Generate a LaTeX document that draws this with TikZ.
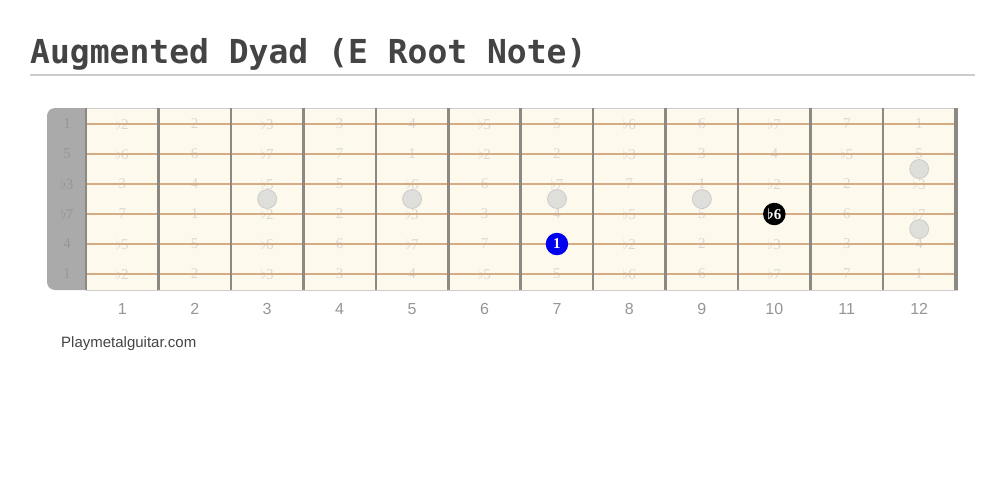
\documentclass[tikz,border=0pt]{standalone}
\usepackage{fontspec}
\setmainfont{Liberation Serif}
\newfontfamily\titlefont{DejaVu Sans Mono}
\newfontfamily\sansfont{Liberation Sans}

\definecolor{titlegray}{RGB}{68,68,68}
\definecolor{rulegray}{RGB}{204,204,204}
\definecolor{boardcream}{RGB}{254,249,237}
\definecolor{nutgray}{RGB}{170,170,170}
\definecolor{nuttext}{RGB}{150,150,150}
\definecolor{notegray}{RGB}{216,216,214}
\definecolor{stringtan}{RGB}{214,172,132}
\definecolor{fretgray}{RGB}{140,136,130}
\definecolor{inlaygray}{RGB}{222,222,218}
\definecolor{rootblue}{RGB}{0,0,238}
\definecolor{numgray}{RGB}{150,150,150}

% interval name from number of semitones
\newcommand\degname[1]{\ifcase#1 1\or$\flat$2\or 2\or$\flat$3\or 3\or 4\or$\flat$5\or 5\or$\flat$6\or 6\or$\flat$7\or 7\fi}

\tikzset{
  notelbl/.style={text=notegray, inner sep=0, font=\fontsize{15}{15}\selectfont},
  nutlbl/.style={text=nuttext, inner sep=0, font=\fontsize{15}{15}\selectfont},
  fretnum/.style={text=numgray, inner sep=0, font=\sansfont\fontsize{16}{16}\selectfont},
  inlay/.style={fill=inlaygray, draw=rulegray, line width=0.8},
  notedot/.style={circle, minimum size=22.5, inner sep=0, text=white,
    font=\bfseries\boldmath\fontsize{15}{15}\selectfont}
}

\begin{document}
\begin{tikzpicture}[x=1pt,y=-1pt]
\useasboundingbox[fill=white] (0,0) rectangle (1005,488);

% title
\node[anchor=base west, inner sep=0, text=titlegray,
  font=\titlefont\bfseries\fontsize{33}{33}\selectfont] (title) at (30,63) {Augmented Dyad (E Root Note)};
\draw[rulegray, line width=1.5] (30,75) -- (975,75);

% neck
\fill[nutgray, rounded corners=8] (47,108) rectangle (96,290);
\fill[boardcream] (86,108) rectangle (958,290);
\draw[rulegray, line width=1] (86,108) -- (958,108);
\draw[rulegray, line width=1] (86,290) -- (958,290);

% labels
\foreach \s/\o in {1/0,2/7,3/3,4/10,5/5,6/0} {
  \node[nutlbl] (open\s) at (67,94+30*\s) {\degname{\o}};
  \foreach \f in {1,...,12} {
    \pgfmathtruncatemacro\idx{mod(\o+\f,12)}
    \node[notelbl] (n\s-\f) at (86+72.45*\f-36.2,94+30*\s) {\degname{\idx}};
  }
}

% strings
\foreach \s in {1,...,6}
  \draw[stringtan, line width=2] (86,94+30*\s) -- (958,94+30*\s);

% frets
\draw[fretgray, line width=2] (86,108) -- (86,290);
\foreach \f in {1,...,12}
  \draw[fretgray, line width=2.5] (86+72.45*\f,108) -- (86+72.45*\f,290);
\draw[fretgray, line width=1] (957.5,108) -- (957.5,290);

% inlays
\foreach \f in {3,5,7,9}
  \filldraw[inlay] (86+72.45*\f-36.2,199) circle (9.5);
\filldraw[inlay] (n2-12.center) ++(0,15) circle (9.5);
\filldraw[inlay] (n5-12.center) ++(0,-15) circle (9.5);

% notes
\node[notedot, fill=rootblue] (root) at (n5-7.center) {1};
\node[notedot, fill=black] (third) at (n4-10.center) {$\flat$6};

% fret numbers
\foreach \f in {1,...,12}
  \node[fretnum] (f\f) at (86+72.45*\f-36.2,309) {\f};

\node[anchor=west, inner sep=0, text=titlegray, font=\sansfont\fontsize{15}{15}\selectfont] (site) at (61,344) {Playmetalguitar.com};
\end{tikzpicture}
\end{document}
